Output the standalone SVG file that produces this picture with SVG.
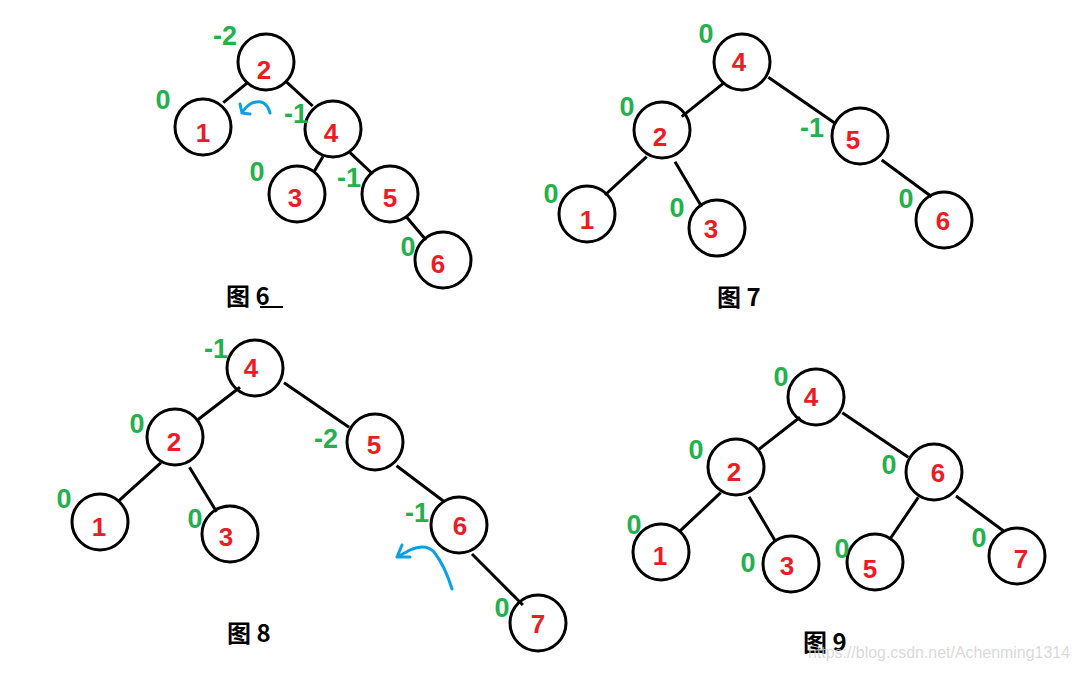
<svg xmlns="http://www.w3.org/2000/svg" width="1082" height="673" viewBox="0 0 1082 673">
<style>
.n circle{fill:none;stroke:#000;stroke-width:3}
.n text{font-family:"Liberation Sans",Arial,sans-serif;font-weight:bold;font-size:26px;fill:#ed1c24;text-anchor:middle}
.b{font-family:"Liberation Sans",Arial,sans-serif;font-weight:bold;font-size:27px;fill:#22b14c;text-anchor:middle}
.e line{stroke:#000;stroke-width:3;stroke-linecap:butt}
.cap{font-family:"Noto Sans CJK SC","Liberation Sans",sans-serif;font-weight:bold;font-size:24px;fill:#000}
.arr{fill:none;stroke:#0aa0e6;stroke-width:3;stroke-linecap:round;stroke-linejoin:round}
</style>
<rect width="1082" height="673" fill="#fff"/>

<!-- Figure 6 -->
<g id="fig6-edges" class="e">
<line x1="246.7" y1="83.3" x2="223.3" y2="102.7"/>
<line x1="285" y1="80.7" x2="312.7" y2="106"/>
<line x1="323.3" y1="156" x2="314" y2="171.7"/>
<line x1="350" y1="152.7" x2="372.7" y2="174"/>
<line x1="406.7" y1="217.3" x2="426" y2="240"/>
</g>
<g id="f6-n2" class="n"><circle cx="266" cy="62" r="28"/><text x="264" y="79">2</text></g>
<g id="f6-n1" class="n"><circle cx="203" cy="127" r="28"/><text x="203" y="142">1</text></g>
<g id="f6-n4" class="n"><circle cx="333" cy="129" r="28"/><text x="331" y="142">4</text></g>
<g id="f6-n3" class="n"><circle cx="297" cy="194" r="28"/><text x="295" y="207">3</text></g>
<g id="f6-n5" class="n"><circle cx="390" cy="194" r="28"/><text x="390" y="207">5</text></g>
<g id="f6-n6" class="n"><circle cx="443" cy="260" r="28"/><text x="438" y="273">6</text></g>
<text class="b" x="225" y="45">-2</text>
<text class="b" x="163" y="109">0</text>
<text class="b" x="296" y="123">-1</text>
<text class="b" x="257" y="181">0</text>
<text class="b" x="349" y="187">-1</text>
<text class="b" x="408" y="256">0</text>
<path class="arr" d="M270 113 Q266 98 252 103 Q246 106 242 113 M242 113 L240 104 M242 113 L250 114"/>
<text class="cap" x="226" y="305">图 6</text>
<line x1="260" y1="307" x2="283" y2="307" stroke="#000" stroke-width="2"/>

<!-- Figure 7 -->
<g id="fig7-edges" class="e">
<line x1="723.3" y1="83.3" x2="681.7" y2="116.7"/>
<line x1="768.3" y1="77.3" x2="835" y2="123.3"/>
<line x1="646.7" y1="156.7" x2="605" y2="195"/>
<line x1="675" y1="161.7" x2="701.7" y2="206.7"/>
<line x1="881.7" y1="160" x2="931.7" y2="196.7"/>
</g>
<g id="f7-n4" class="n"><circle cx="742" cy="62" r="28"/><text x="739" y="71">4</text></g>
<g id="f7-n2" class="n"><circle cx="662" cy="130" r="28"/><text x="660" y="146">2</text></g>
<g id="f7-n5" class="n"><circle cx="860" cy="136" r="28"/><text x="853" y="149">5</text></g>
<g id="f7-n1" class="n"><circle cx="587" cy="214" r="28"/><text x="587" y="229">1</text></g>
<g id="f7-n3" class="n"><circle cx="717" cy="228" r="28"/><text x="711" y="238">3</text></g>
<g id="f7-n6" class="n"><circle cx="944" cy="220" r="28"/><text x="943" y="230">6</text></g>
<text class="b" x="706" y="43">0</text>
<text class="b" x="627" y="116">0</text>
<text class="b" x="812" y="137">-1</text>
<text class="b" x="551" y="203">0</text>
<text class="b" x="677" y="217">0</text>
<text class="b" x="906" y="208">0</text>
<text class="cap" x="717" y="306">图 7</text>

<!-- Figure 8 -->
<g id="fig8-edges" class="e">
<line x1="240" y1="387.3" x2="197.5" y2="420"/>
<line x1="284" y1="382.7" x2="349" y2="427.3"/>
<line x1="161" y1="462.7" x2="117.9" y2="501.7"/>
<line x1="189.5" y1="467.3" x2="216.5" y2="511.7"/>
<line x1="396.5" y1="465.7" x2="444.3" y2="501.7"/>
<line x1="472" y1="554" x2="522.9" y2="605"/>
</g>
<g id="f8-n4" class="n"><circle cx="255" cy="368" r="28"/><text x="251" y="377">4</text></g>
<g id="f8-n2" class="n"><circle cx="175" cy="437" r="28"/><text x="174" y="451">2</text></g>
<g id="f8-n5" class="n"><circle cx="375" cy="442" r="28"/><text x="374" y="454">5</text></g>
<g id="f8-n1" class="n"><circle cx="100" cy="522" r="28"/><text x="99" y="536">1</text></g>
<g id="f8-n3" class="n"><circle cx="230" cy="534" r="28"/><text x="226" y="546">3</text></g>
<g id="f8-n6" class="n"><circle cx="459" cy="525" r="28"/><text x="460" y="535">6</text></g>
<g id="f8-n7" class="n"><circle cx="538" cy="623" r="28"/><text x="538" y="633">7</text></g>
<text class="b" x="216" y="358">-1</text>
<text class="b" x="137" y="433">0</text>
<text class="b" x="326" y="448">-2</text>
<text class="b" x="64" y="508">0</text>
<text class="b" x="195" y="528">0</text>
<text class="b" x="417" y="522">-1</text>
<text class="b" x="502" y="617">0</text>
<path class="arr" d="M452 589 Q445 566 434 552 Q426 543 410 550 L397 557 M397 557 L402 545 M397 557 L410 557"/>
<text class="cap" x="227" y="642">图 8</text>

<!-- Figure 9 -->
<g id="fig9-edges" class="e">
<line x1="800" y1="417.3" x2="759" y2="449.3"/>
<line x1="842.3" y1="412.7" x2="908.3" y2="457.3"/>
<line x1="720.7" y1="492.7" x2="679.3" y2="531.7"/>
<line x1="749" y1="496.7" x2="775.7" y2="541.7"/>
<line x1="918.3" y1="497.3" x2="889.3" y2="540"/>
<line x1="956" y1="496" x2="1003.3" y2="530.7"/>
</g>
<g id="f9-n4" class="n"><circle cx="816" cy="397" r="28"/><text x="811" y="406">4</text></g>
<g id="f9-n2" class="n"><circle cx="736" cy="467" r="28"/><text x="734" y="481">2</text></g>
<g id="f9-n6" class="n"><circle cx="934" cy="472" r="28"/><text x="938" y="482">6</text></g>
<g id="f9-n1" class="n"><circle cx="661" cy="552" r="28"/><text x="660" y="565">1</text></g>
<g id="f9-n3" class="n"><circle cx="791" cy="564" r="28"/><text x="787" y="575">3</text></g>
<g id="f9-n5" class="n"><circle cx="875" cy="562" r="28"/><text x="870" y="578">5</text></g>
<g id="f9-n7" class="n"><circle cx="1017" cy="556" r="28"/><text x="1021" y="568">7</text></g>
<text class="b" x="781" y="386">0</text>
<text class="b" x="696" y="459">0</text>
<text class="b" x="889" y="474">0</text>
<text class="b" x="634" y="534">0</text>
<text class="b" x="748" y="572">0</text>
<text class="b" x="842" y="558">0</text>
<text class="b" x="979" y="547">0</text>
<text class="cap" x="803" y="651">图 9</text>
<text x="808" y="658" font-family="'Liberation Sans',Arial,sans-serif" font-size="17" fill="#d0d0d0" fill-opacity="0.8" textLength="262" lengthAdjust="spacingAndGlyphs">https://blog.csdn.net/Achenming1314</text>
</svg>
